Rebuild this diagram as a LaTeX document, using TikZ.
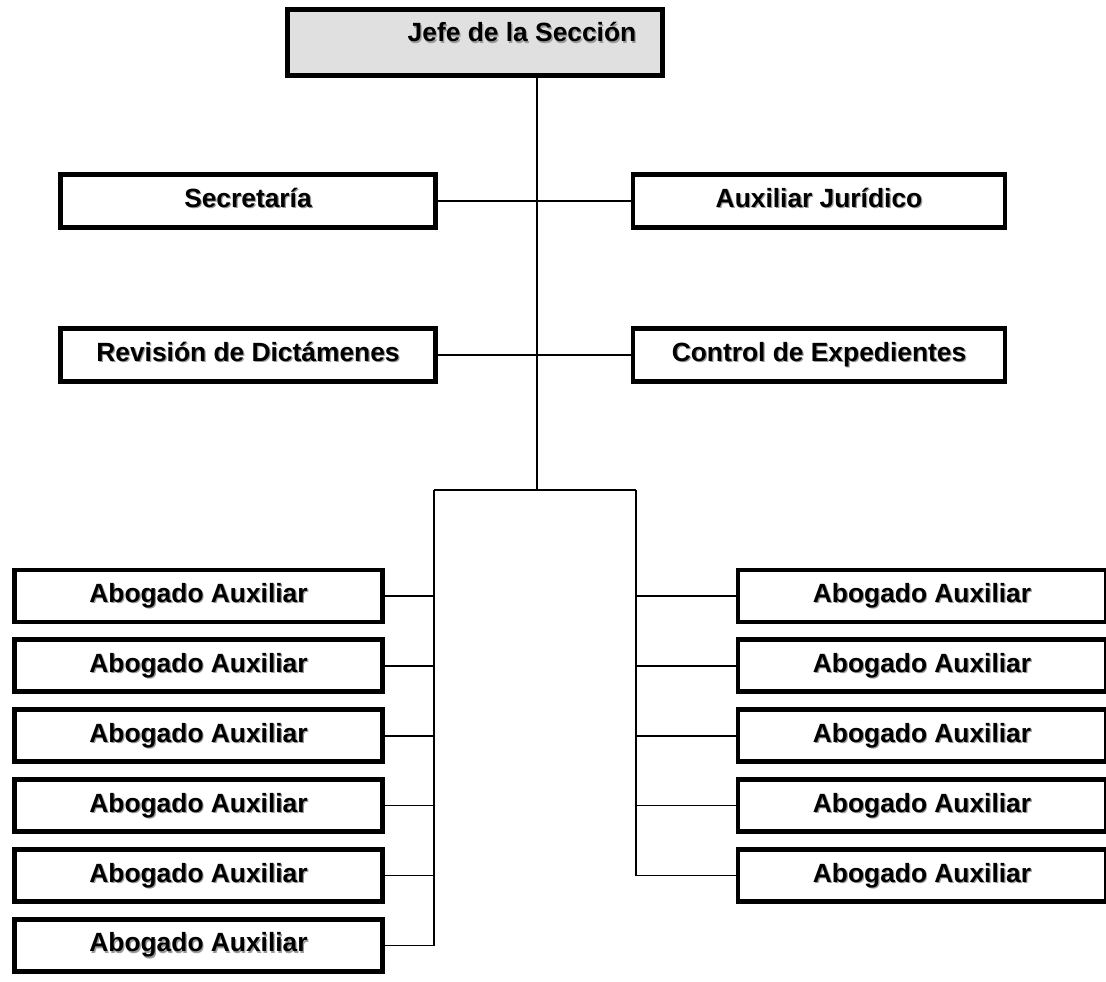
\documentclass[tikz,border=0pt]{standalone}
\usepackage{fontspec}
\setmainfont{Liberation Sans}
\usepackage{tikz}
\usetikzlibrary{positioning, calc}
\usepackage{xcolor}
\definecolor{headgray}{HTML}{E0E0E0}
\definecolor{shadowgray}{HTML}{9A9A9A}
\newcommand{\shadowtxt}[1]{\makebox[0pt][l]{\hspace{0.7pt}\raisebox{-0.7pt}{\textcolor{shadowgray}{#1}}}#1}

\begin{document}
\begin{tikzpicture}[
    node distance=0.26cm,
    every node/.style={font=\fontsize{15}{18}\selectfont\bfseries},
    unit/.style={draw, line width=2.8pt, fill=white, minimum width=7.5cm, minimum height=1.06cm, align=center, inner sep=0pt, text height=0.72em, text depth=0pt},
    lawyer/.style={unit, minimum width=7.36cm, minimum height=1.04cm},
    link/.style={line width=0.8pt}
]
    \useasboundingbox (0,0) rectangle (22.12,-19.62);

    \node[unit, fill=headgray, minimum height=1.32cm, text depth=0.28cm] (jefe) at (9.5,-0.85) {\hspace*{1.88cm}\shadowtxt{Jefe de la Sección}};

    \node[unit] (sec) at (4.96,-4.02) {\shadowtxt{Secretaría}};
    \node[unit, minimum width=7.44cm] (aux) at (16.38,-4.02) {\shadowtxt{Auxiliar Jurídico}};
    \node[unit] (rev) at (4.96,-7.1) {\shadowtxt{Revisión de Dictámenes}};
    \node[unit, minimum width=7.44cm] (ctrl) at (16.38,-7.1) {\shadowtxt{Control de Expedientes}};

    % abogados, lado izquierdo
    \node[lawyer] (al1) at (3.97,-11.92) {\shadowtxt{Abogado Auxiliar}};
    \node[lawyer, below=of al1] (al2) {\shadowtxt{Abogado Auxiliar}};
    \node[lawyer, below=of al2] (al3) {\shadowtxt{Abogado Auxiliar}};
    \node[lawyer, below=of al3] (al4) {\shadowtxt{Abogado Auxiliar}};
    \node[lawyer, below=of al4] (al5) {\shadowtxt{Abogado Auxiliar}};
    \node[lawyer, below=of al5] (al6) {\shadowtxt{Abogado Auxiliar}};

    % abogados, lado derecho
    \node[lawyer] (ar1) at (18.44,-11.92) {\shadowtxt{Abogado Auxiliar}};
    \node[lawyer, below=of ar1] (ar2) {\shadowtxt{Abogado Auxiliar}};
    \node[lawyer, below=of ar2] (ar3) {\shadowtxt{Abogado Auxiliar}};
    \node[lawyer, below=of ar3] (ar4) {\shadowtxt{Abogado Auxiliar}};
    \node[lawyer, below=of ar4] (ar5) {\shadowtxt{Abogado Auxiliar}};

    \coordinate (fork) at (10.74,-9.8);
    \coordinate (forkL) at (8.68,-9.8);
    \coordinate (forkR) at (12.72,-9.8);

    \draw[link] (jefe.south -| fork) -- (fork);
    \draw[link] (sec.east) -- (aux.west);
    \draw[link] (rev.east) -- (ctrl.west);
    \draw[link] (forkL) -- (forkR);
    \draw[link] (forkL) -- (forkL |- al6.east);
    \draw[link] (forkR) -- (forkR |- ar5.west);

    \draw[link] (al1.east) -- (al1.east -| forkL);
    \draw[link] (al2.east) -- (al2.east -| forkL);
    \draw[link] (al3.east) -- (al3.east -| forkL);
    \draw[link] (al4.east) -- (al4.east -| forkL);
    \draw[link] (al5.east) -- (al5.east -| forkL);
    \draw[link] (al6.east) -- (al6.east -| forkL);

    \draw[link] (ar1.west) -- (ar1.west -| forkR);
    \draw[link] (ar2.west) -- (ar2.west -| forkR);
    \draw[link] (ar3.west) -- (ar3.west -| forkR);
    \draw[link] (ar4.west) -- (ar4.west -| forkR);
    \draw[link] (ar5.west) -- (ar5.west -| forkR);
\end{tikzpicture}
\end{document}
